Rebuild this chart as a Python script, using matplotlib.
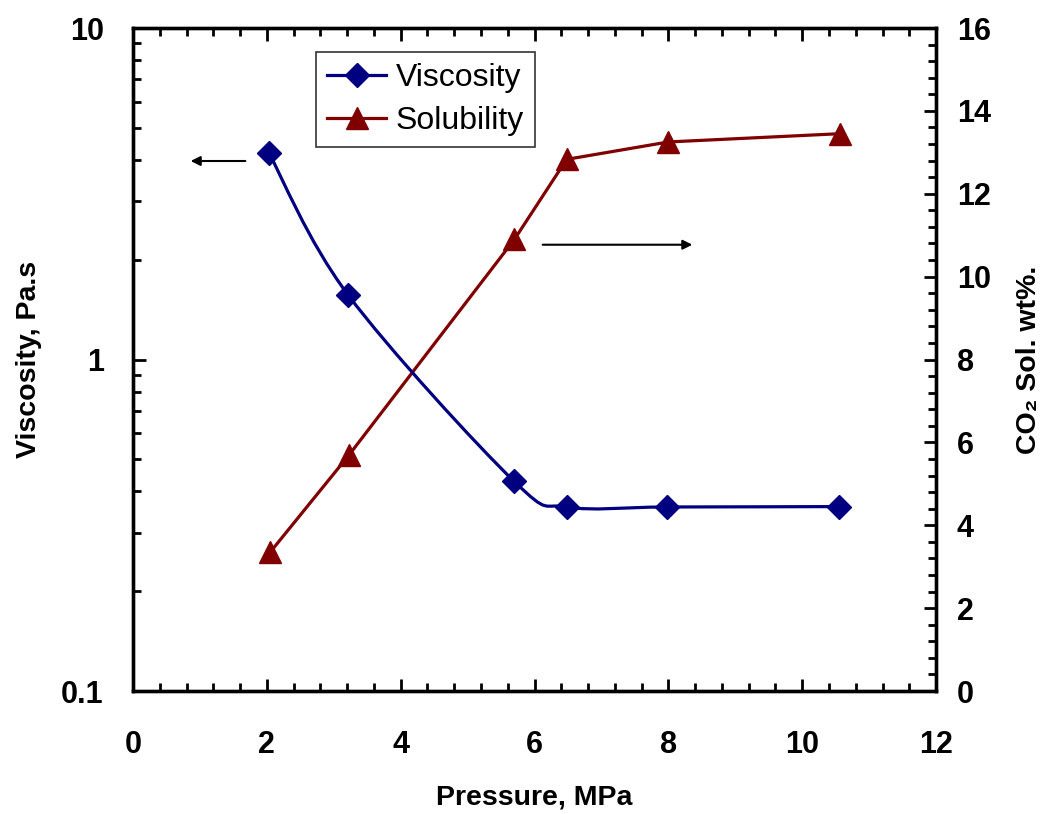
import numpy as np
import matplotlib
matplotlib.use("Agg")
import matplotlib.pyplot as plt
from matplotlib.path import Path
from matplotlib.patches import PathPatch
from matplotlib.ticker import MultipleLocator, LogLocator, FixedLocator, FixedFormatter, NullFormatter

plt.rcParams['font.family'] = ['Liberation Sans', 'DejaVu Sans']

# data
pressure_visc = [2.03, 3.21, 5.69, 6.49, 7.98, 10.55]
viscosity = [4.2, 1.57, 0.43, 0.359, 0.359, 0.36]
pressure_sol = [2.05, 3.23, 5.70, 6.48, 8.0, 10.57]
solubility = [3.35, 5.7, 10.9, 12.83, 13.25, 13.45]

navy = '#000080'
maroon = '#800000'

fig = plt.figure(figsize=(10.43, 8.14), dpi=100)
ax = fig.add_axes([0.1275, 0.1511, 0.77, 0.8145])
ax2 = ax.twinx()

# smoothed viscosity curve (bezier through the points, built in log space)
lx = np.array(pressure_visc)
ly = np.log10(viscosity)
verts = [(lx[0], viscosity[0])]
codes = [Path.MOVETO]
n = len(lx)
for i in range(n - 1):
    p0 = (lx[max(i - 1, 0)], ly[max(i - 1, 0)])
    p1 = (lx[i], ly[i])
    p2 = (lx[i + 1], ly[i + 1])
    p3 = (lx[min(i + 2, n - 1)], ly[min(i + 2, n - 1)])
    c1 = (p1[0] + (p2[0] - p0[0]) / 6, p1[1] + (p2[1] - p0[1]) / 6)
    c2 = (p2[0] - (p3[0] - p1[0]) / 6, p2[1] - (p3[1] - p1[1]) / 6)
    verts += [(c1[0], 10 ** c1[1]), (c2[0], 10 ** c2[1]), (p2[0], 10 ** p2[1])]
    codes += [Path.CURVE4] * 3
ax.add_patch(PathPatch(Path(verts, codes), fill=False, edgecolor=navy, lw=2.3, zorder=3))
ax.plot(pressure_visc, viscosity, 'D', color=navy, ms=12.5, zorder=4)

ax2.plot(pressure_sol, solubility, '-', color=maroon, lw=2.3, marker='^', ms=16, zorder=4)

ax.set_yscale('log')
ax.set_xlim(0, 12)
ax.set_ylim(0.1, 10)
ax2.set_ylim(0, 16)

ax.xaxis.set_major_locator(MultipleLocator(2))
ax.xaxis.set_minor_locator(MultipleLocator(0.4))
ax.yaxis.set_major_locator(FixedLocator([0.1, 1, 10]))
ax.yaxis.set_major_formatter(FixedFormatter(['0.1', '1', '10']))
ax.yaxis.set_minor_locator(LogLocator(subs=np.arange(2, 10)))
ax.yaxis.set_minor_formatter(NullFormatter())
ax2.yaxis.set_major_locator(MultipleLocator(2))
ax2.yaxis.set_minor_locator(MultipleLocator(0.4))

for a in (ax, ax2):
    for s in a.spines.values():
        s.set_linewidth(2.4)
ax.tick_params(which='both', direction='in', top=True, right=False, width=2, labelsize=22)
ax.tick_params(which='major', length=9)
ax.tick_params(which='minor', length=6)
ax.tick_params(axis='x', which='both', pad=28)
ax.tick_params(axis='y', which='both', pad=21)
ax2.tick_params(which='both', direction='in', width=2, labelsize=22, pad=15)
ax2.tick_params(which='major', length=9)
ax2.tick_params(which='minor', length=6)
for lab in ax.get_xticklabels() + ax.get_yticklabels() + ax2.get_yticklabels():
    lab.set_fontweight('bold')

ax.set_xlabel('Pressure, MPa', fontsize=20.5, fontweight='bold', labelpad=18)
ax.set_ylabel('Viscosity, Pa.s', fontsize=20.5, fontweight='bold', labelpad=14)
ax2.set_ylabel('CO₂ Sol. wt%.', fontsize=20.5, fontweight='bold', labelpad=18)

# direction arrows
ax.annotate('', xy=(0.82, 3.97), xytext=(1.72, 3.97),
            arrowprops=dict(arrowstyle='-|>', color='black', lw=1.5, mutation_scale=14))
ax2.annotate('', xy=(8.4, 10.77), xytext=(6.08, 10.77),
             arrowprops=dict(arrowstyle='-|>', color='black', lw=1.5, mutation_scale=14))

h1 = plt.Line2D([], [], color=navy, lw=2.3, marker='D', ms=12.5)
h2 = plt.Line2D([], [], color=maroon, lw=2.3, marker='^', ms=16)
leg = ax.legend([h1, h2], ['Viscosity', 'Solubility'], loc='upper left',
                bbox_to_anchor=(0.228, 0.964), borderaxespad=0, fontsize=23, frameon=True,
                fancybox=False, edgecolor='black', handlelength=1.85,
                borderpad=0.35, labelspacing=0.4, handletextpad=0.3)
leg.get_frame().set_linewidth(1.2)
ax.set_zorder(ax2.get_zorder() + 1)
ax.patch.set_visible(False)

fig.savefig('out.png', dpi=100)
